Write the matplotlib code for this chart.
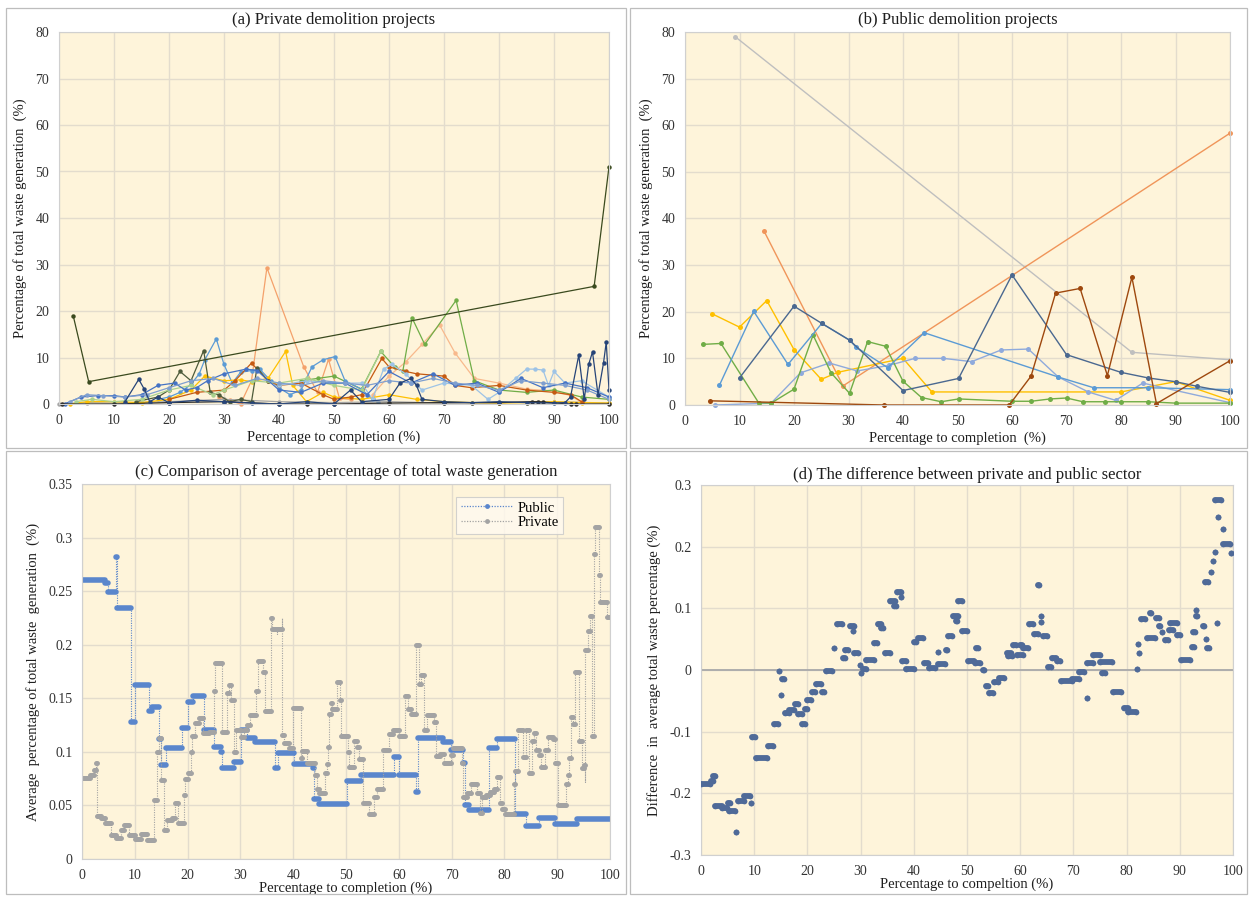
import matplotlib
matplotlib.use('Agg')
import matplotlib.pyplot as plt
from matplotlib.patches import Rectangle
from matplotlib.lines import Line2D
from matplotlib.ticker import FuncFormatter, MultipleLocator

plt.rcParams['font.family'] = ['Liberation Serif', 'DejaVu Serif']

# ---------------- (a) private projects: one list per project ----------------
a_x = [
    [29, 31, 33, 35, 37.8, 44.5, 47, 49, 51, 53],
    [57, 60, 63, 66, 69.2, 72, 75.5, 80, 85, 90, 93, 95],
    [44, 47, 50, 55, 58.5, 61, 62.5, 64.2, 66.5, 72.2, 75.5, 80, 85, 90, 95, 100],
    [18, 20, 22, 24, 25.5, 26.5, 28.6, 30, 31.5, 33, 35, 36.5, 38.5, 40, 42, 44, 46, 48, 50.2, 52, 55, 57, 58],
    [0, 5, 10, 20, 30, 40, 50, 60, 70, 80, 90, 100],
    [2, 5, 10, 15, 20, 24, 26.5, 30, 33, 35, 38, 41.2, 42.5, 45, 48, 50, 55, 60, 65, 70, 75, 80, 85, 90, 95, 100],
    [20, 25, 30, 32, 35, 38, 40, 44, 48, 50, 53, 55, 58.7, 60, 63, 65, 68, 70, 72, 75, 80, 85, 90, 93, 95],
    [14, 18, 20, 22, 24, 26.3, 27.5, 29, 31, 33, 35, 36, 38],
    [40, 45, 50, 55, 57, 59, 60.5, 63, 66, 70, 75, 78, 80, 83, 85, 86.5, 88, 89, 90, 92, 95, 100],
    [3, 6, 10, 15, 20, 24, 28, 30, 35, 40, 45, 50, 55, 58.5],
    [1, 4, 7, 10, 12, 15, 18, 21, 23, 25, 27, 30, 34, 36, 40, 44, 48, 52, 56, 60, 64, 68, 72, 76, 80, 84, 88, 92, 96, 100],
    [2, 5, 8, 12, 16, 20, 24, 28, 32, 36, 40, 44, 48, 52, 56, 60, 64, 68, 72, 76, 80, 84, 88, 92, 96, 100],
    [0.5, 10, 20, 30, 40, 45, 50, 60, 70, 80, 86, 87, 88, 93, 94, 100],
    [12, 14.5, 15.5, 16.5, 18, 20, 25, 30, 35, 40, 45, 50, 53, 55, 60, 62, 64, 65, 66, 70, 75, 80, 85, 90, 92, 93,
     94.5, 95.5, 96.3, 97, 98, 99, 99.5, 100],
    [2.6, 5.4, 97.3, 100],
]
a_y = [
    [1.5, 0.8, 0, 5, 29.3, 8, 2.5, 9.6, 1.2, 1.0],
    [2, 6, 9, 12.8, 17, 11, 5.5, 4.5, 3.2, 2.8, 1.8, 0.4],
    [5, 5.5, 6, 3.2, 11.3, 8, 7, 18.5, 12.8, 22.3, 5, 3, 2.5, 3, 1.5, 1],
    [1, 1.5, 2.5, 4.2, 6.5, 9.5, 14, 8.5, 4.5, 6.8, 7.2, 7.5, 5, 3.5, 2, 3, 8, 9.5, 10.2, 5, 3.2, 1, 0.5],
    [0, 0.3, 0.2, 0.5, 1, 0.5, 0.3, 0.5, 0.2, 0.3, 0.5, 0.2],
    [0, 0.5, 0.5, 0.3, 1, 3, 6, 5, 5.2, 4.8, 5.5, 11.3, 4, 0.5, 2.5, 1.5, 1, 2, 1, 0.5, 0.3, 0.2, 0.3, 0.5, 0.3, 0.2],
    [1, 2.5, 3, 5, 8.8, 5, 4, 4.5, 2, 1, 1.5, 2, 9.8, 8, 7, 6.5, 6.2, 6, 4, 3.5, 4, 3, 2.5, 2, 0.5],
    [0.5, 1.5, 3, 7, 5, 11.5, 2.5, 2, 0.5, 1, 0.5, 7.8, 5],
    [4, 5, 4.5, 4.5, 1, 7.5, 8.5, 6.5, 3, 4.5, 4, 1, 2.5, 5.5, 7.5, 7.5, 7.3, 4, 7, 4.5, 5, 1.5],
    [0.5, 1, 0.5, 1, 3, 4, 2, 3, 5, 4.5, 5.5, 4, 3, 11.3],
    [0, 1.5, 1.8, 1.8, 1.5, 2, 4, 4.5, 3, 3.5, 5, 6.5, 7.5, 7.2, 3, 2.5, 4.5, 4.5, 2, 7, 4.5, 6.5, 4, 4.5, 2.5, 5.5,
     3.5, 4.5, 3.5, 1.5],
    [0.5, 2, 1.8, 1.5, 2, 3.5, 5, 5.5, 4, 5.5, 4.5, 4, 5, 4.5, 4, 5, 4.5, 5.5, 4.5, 4, 3, 5, 4.5, 4, 3, 1],
    [0, 0, 0.3, 0.5, 0, 0, 0, 0.2, 0.3, 0.3, 0.5, 0.5, 0.4, 0, 0, 0],
    [0.5, 5.3, 3.2, 0.5, 1.5, 0.3, 0.8, 0.5, 0.2, 0, 0.5, 0, 3, 0.5, 1, 4.5, 5.5, 4, 1, 0.5, 0.3, 0.5, 0.3, 0.2, 0.3,
     1.5, 10.5, 1, 8.5, 11.2, 2, 8.8, 13.3, 3],
    [18.9, 4.8, 25.3, 51.0],
]
a_colors = ['#f4a16b', '#f8b98c', '#70ad47', '#5b9bd5', '#a5a5a5', '#ffc000', '#c55a11', '#4d5b3a',
            '#9dc3e6', '#a9d18e', '#4472c4', '#7f9fcf', '#2b2b2b', '#264478', '#3a4a1e']

# ---------------- (b) public projects ----------------
b_x = [
    [9.2, 82, 100],
    [14.5, 29, 100],
    [4.9, 10, 15, 20, 25, 28, 40, 45.3, 80, 90, 100],
    [5.5, 15.8, 21.2, 26.5, 31.6, 37.4, 42.2, 47.4, 52.6, 58, 63, 68.5, 74, 79, 84, 100],
    [3.3, 6.6, 13.5, 15.8, 20, 23.5, 26.8, 30.2, 33.5, 36.8, 40, 43.4, 47, 50.2, 60, 63.5, 67, 70, 73, 77, 80, 85,
     90, 100],
    [6.3, 12.6, 18.9, 25.1, 30.2, 31.4, 37.2, 43.9, 68.5, 75, 85, 100],
    [10, 20, 25.1, 30.2, 40, 50.2, 60, 70, 80, 85, 90, 94, 100],
    [4.5, 36.6, 59.5, 63.5, 68, 72.5, 77.5, 82, 86.5, 100],
]
b_y = [
    [79, 11.3, 9.7],
    [37.3, 4.1, 58.3],
    [19.6, 16.7, 22.4, 11.9, 5.5, 7, 10, 2.8, 2.8, 5, 1],
    [0, 0.4, 6.9, 9, 7.3, 8.5, 10, 10, 9.3, 11.8, 12, 6, 2.8, 1, 4.7, 0.5],
    [13, 13.2, 0.5, 0.4, 3.4, 15, 6.9, 2.5, 13.6, 12.6, 5.1, 1.6, 0.7, 1.3, 0.8, 0.8, 1.3, 1.5, 0.7, 0.7, 0.7, 0.7,
     0.4, 0.4],
    [4.2, 20.1, 8.7, 17.5, 13.9, 12.4, 8.0, 15.5, 6, 3.7, 3.7, 3.3],
    [5.8, 21.2, 17.5, 13.9, 3.1, 5.7, 27.9, 10.8, 7, 5.8, 5, 4, 2.7],
    [0.9, 0, 0, 6.2, 24, 25, 6.3, 27.4, 0.3, 9.5],
]
b_colors = ['#bfbfbf', '#f0955a', '#ffc000', '#8faadc', '#70ad47', '#5b9bd5', '#4a6890', '#9e480e']

# ---------------- (c) average share: step levels (start of level, value) ----------------
pub_x = [0, 4.4, 4.9, 6.4, 6.7, 9.3, 10.1, 12.6, 13.3, 14.5, 14.9, 16.0, 18.9, 20.0, 21.1, 23.2, 25.0, 26.3, 26.6,
         28.8, 30.1, 31.3, 32.8, 36.6, 37.2, 40.1, 43.7, 44.0, 44.9, 50.2, 52.8, 59.0, 60.0, 63.2, 63.6, 68.4, 69.9,
         72.2, 72.5, 73.3, 77.0, 78.6, 82.0, 84.1, 86.5, 89.6, 93.7]
pub_y = [0.26, 0.258, 0.249, 0.282, 0.234, 0.128, 0.162, 0.138, 0.142, 0.112, 0.088, 0.104, 0.122, 0.147, 0.152,
         0.12, 0.105, 0.1, 0.085, 0.091, 0.12, 0.113, 0.109, 0.085, 0.099, 0.089, 0.085, 0.056, 0.051, 0.073, 0.078,
         0.095, 0.078, 0.063, 0.113, 0.109, 0.102, 0.09, 0.05, 0.046, 0.104, 0.112, 0.042, 0.031, 0.038, 0.033, 0.037]

priv_x = [0, 1.6, 2.2, 2.6, 2.9, 3.6, 4.4, 5.5, 6.4, 7.4, 7.9, 8.9, 10.1, 11.2, 12.3, 13.7, 14.2, 14.5, 14.9, 15.5,
          16.1, 17.0, 17.6, 18.2, 19.3, 19.5, 20.0, 20.6, 20.8, 21.4, 22.2, 22.9, 24.0, 25.0, 25.2, 26.5, 27.5, 27.9,
          28.3, 28.8, 29.1, 30.1, 30.7, 31.3, 31.8, 32.9, 33.4, 34.3, 34.6, 35.8, 36.0, 36.9, 37.0, 37.8, 37.9, 38.2,
          39.2, 40.0, 41.5, 41.7, 42.6, 44.2, 44.5, 44.9, 46.0, 46.4, 46.6, 46.8, 47.2, 47.4, 48.3, 48.8, 49.0, 50.4,
          50.6, 51.6, 52.0, 52.4, 53.2, 54.3, 55.3, 55.9, 57.0, 58.1, 58.9, 60.0, 61.1, 61.7, 62.3, 63.2, 63.9, 64.2,
          64.8, 65.4, 66.6, 67.0, 67.8, 68.5, 69.8, 70.2, 72.0, 72.2, 72.9, 73.7, 74.8, 75.4, 75.7, 76.5, 77.3, 78.0,
          78.6, 79.1, 79.6, 80.1, 81.8, 82.1, 82.6, 83.5, 84.0, 84.6, 85.3, 85.7, 86.0, 86.6, 86.9, 87.6, 88.3, 89.2,
          89.5, 90.2, 91.7, 92.1, 92.3, 92.7, 93.0, 93.3, 94.1, 94.7, 95.0, 95.2, 95.3, 95.8, 96.3, 96.6, 97.0, 97.2,
          97.9, 98.2, 99.4]
priv_y = [0.076, 0.078, 0.083, 0.09, 0.04, 0.038, 0.034, 0.022, 0.02, 0.027, 0.032, 0.022, 0.019, 0.023, 0.018,
          0.055, 0.1, 0.113, 0.074, 0.027, 0.036, 0.038, 0.052, 0.034, 0.06, 0.075, 0.08, 0.1, 0.115, 0.127, 0.132,
          0.118, 0.119, 0.157, 0.183, 0.119, 0.155, 0.162, 0.148, 0.1, 0.12, 0.114, 0.12, 0.125, 0.134, 0.157, 0.185,
          0.175, 0.138, 0.225, 0.215, 0.21, 0.215, 0.225, 0.116, 0.108, 0.104, 0.141, 0.094, 0.101, 0.09, 0.078,
          0.065, 0.062, 0.08, 0.089, 0.105, 0.135, 0.146, 0.14, 0.165, 0.148, 0.115, 0.1, 0.086, 0.11, 0.105, 0.093,
          0.052, 0.042, 0.058, 0.065, 0.102, 0.117, 0.12, 0.115, 0.152, 0.14, 0.135, 0.2, 0.163, 0.172, 0.12, 0.134,
          0.128, 0.096, 0.098, 0.09, 0.097, 0.104, 0.09, 0.058, 0.062, 0.07, 0.062, 0.043, 0.058, 0.06, 0.063, 0.065,
          0.077, 0.052, 0.047, 0.042, 0.07, 0.082, 0.12, 0.095, 0.12, 0.08, 0.11, 0.118, 0.102, 0.097, 0.086, 0.102,
          0.114, 0.112, 0.09, 0.05, 0.07, 0.078, 0.094, 0.133, 0.126, 0.175, 0.11, 0.085, 0.088, 0.072, 0.195, 0.213,
          0.227, 0.115, 0.285, 0.31, 0.265, 0.24, 0.226]

# ---------------- (d) difference: runs of points (from, to, value) ----------------
d_x0 = [0, 1.8, 2.3, 2.7, 4.0, 5.0, 5.2, 6.6, 7.0, 8.0, 9.4, 9.6, 10.4, 12.6, 13.7, 14.7, 15.0, 15.3, 15.7, 16.5,
        17.6, 18.2, 19.0, 19.6, 20.0, 20.8, 21.6, 22.8, 23.5, 25.0, 25.5, 26.6, 27.0, 28.0, 28.5, 28.8, 29.8, 30.0,
        30.5, 31.0, 32.5, 33.2, 33.8, 34.5, 35.6, 36.3, 36.8, 37.5, 37.8, 38.6, 40.0, 40.7, 42.0, 42.8, 44.5, 44.6,
        46.0, 46.4, 47.3, 48.0, 48.4, 49.0, 50.1, 51.6, 51.5, 53.0, 53.6, 54.2, 55.0, 56.0, 57.6, 57.8, 58.6, 59.4,
        60.0, 60.6, 61.6, 62.5, 63.4, 64.0, 64.0, 64.2, 65.2, 66.0, 67.0, 67.6, 69.8, 71.0, 72.5, 72.5, 73.7, 75.3,
        75.0, 77.5, 79.6, 80.2, 82.0, 82.2, 82.4, 82.8, 83.8, 84.4, 85.6, 86.0, 86.6, 87.2, 88.1, 88.0, 89.4, 90.3,
        92.2, 92.5, 93.0, 93.1, 94.3, 94.7, 94.9, 95.2, 95.8, 96.2, 96.6, 97.0, 96.7, 97.2, 98.2, 98.1, 99.7]
d_x1 = [1.7, 2.2, 2.6, 4.0, 4.8, 5.4, 6.4, 6.6, 8.0, 9.2, 9.4, 10.2, 12.4, 13.5, 14.5, 14.7, 15.0, 15.6, 16.5, 17.5,
        18.2, 19.0, 19.5, 20.0, 20.6, 21.5, 22.6, 23.2, 24.6, 25.0, 26.5, 27.0, 27.6, 28.8, 28.5, 29.6, 29.8, 30.0,
        31.0, 32.5, 33.0, 33.8, 34.2, 35.5, 36.4, 36.6, 37.5, 37.5, 38.5, 40.0, 40.5, 41.8, 42.6, 44.0, 44.5, 45.8,
        46.2, 47.2, 48.3, 48.2, 49.0, 50.0, 51.4, 52.0, 52.5, 53.2, 54.0, 54.8, 55.8, 57.0, 58.2, 58.4, 59.3, 60.5,
        60.4, 61.5, 62.4, 63.4, 63.6, 64.0, 64.0, 65.0, 65.8, 66.8, 67.5, 69.8, 71.0, 71.9, 72.5, 73.7, 75.0, 75.9,
        77.2, 79.0, 80.2, 81.8, 82.0, 82.2, 82.4, 83.4, 85.3, 84.6, 86.0, 86.3, 86.6, 87.8, 89.4, 88.8, 90.0, 91.9,
        92.6, 92.8, 93.1, 93.2, 94.6, 95.3, 94.9, 95.5, 95.8, 96.2, 96.6, 97.0, 97.7, 97.2, 98.2, 99.4, 99.7]
d_y = [-0.185, -0.18, -0.172, -0.22, -0.224, -0.215, -0.228, -0.262, -0.213, -0.205, -0.215, -0.108, -0.142,
       -0.124, -0.088, -0.002, -0.04, -0.015, -0.07, -0.065, -0.055, -0.072, -0.088, -0.063, -0.048, -0.035, -0.023,
       -0.035, -0.002, 0.036, 0.075, 0.02, 0.032, 0.072, 0.063, 0.027, 0.008, -0.005, 0.002, 0.017, 0.043, 0.075,
       0.068, 0.028, 0.112, 0.103, 0.127, 0.118, 0.015, 0.002, 0.045, 0.052, 0.012, 0.003, 0.03, 0.01, 0.033, 0.055,
       0.088, 0.08, 0.112, 0.063, 0.015, 0.035, 0.012, 0.0, -0.026, -0.037, -0.02, -0.013, 0.028, 0.022, 0.04, 0.025,
       0.04, 0.035, 0.075, 0.058, 0.138, 0.088, 0.078, 0.055, 0.005, 0.02, 0.015, -0.018, -0.015, -0.004, -0.046,
       0.012, 0.024, -0.005, 0.013, -0.035, -0.062, -0.068, 0.001, 0.042, 0.027, 0.082, 0.052, 0.092, 0.085, 0.072,
       0.062, 0.049, 0.077, 0.065, 0.057, 0.017, 0.037, 0.062, 0.097, 0.088, 0.072, 0.143, 0.05, 0.035, 0.159,
       0.176, 0.192, 0.077, 0.276, 0.248, 0.229, 0.205, 0.189]

BG = '#fef4da'
GRID = '#e3dccd'
SPINE = '#d0d0d0'
TXT = '#1e1e1e'
PUB = '#5a86cc'
PRIV = '#a3a3a3'
DIFF = '#4f6a98'

W, H = 1251, 897
fig = plt.figure(figsize=(W / 100, H / 100), dpi=100)


def box(l, t, r, b):
    return [l / W, 1 - b / H, (r - l) / W, (b - t) / H]


def style(ax, title, xlabel, ylabel, pad):
    ax.set_facecolor(BG)
    ax.grid(True, color=GRID, lw=1.0)
    ax.set_axisbelow(True)
    for s in ax.spines.values():
        s.set_color(SPINE)
        s.set_linewidth(0.8)
    ax.tick_params(length=0, pad=7, labelsize=10, colors='#333333')
    ax.set_title(title, fontsize=12, pad=pad, color=TXT)
    ax.set_xlabel(xlabel, fontsize=10.5, color=TXT, labelpad=3)
    ax.set_ylabel(ylabel, fontsize=10.5, color=TXT, labelpad=6)
    ax.set_xlim(0, 100)
    ax.xaxis.set_major_locator(MultipleLocator(10))


# quadrant frames
for l, t, r, b in [(6, 8, 626, 448), (630, 8, 1247, 448), (6, 451, 626, 894), (630, 451, 1247, 894)]:
    fig.add_artist(Rectangle((l / W, 1 - b / H), (r - l) / W, (b - t) / H, transform=fig.transFigure,
                             fill=False, ec='#bdbdbd', lw=0.9))

# (a)
ax = fig.add_axes(box(59, 32, 609, 404))
for xs, ys, c in zip(a_x, a_y, a_colors):
    ax.plot(xs, ys, color=c, lw=0.9, marker='o', ms=3.2, mew=0, clip_on=False)
ax.set_ylim(0, 80)
ax.yaxis.set_major_locator(MultipleLocator(10))
style(ax, '(a) Private demolition projects', 'Percentage to completion (%)',
      'Percentage of total waste generation  (%)', 6)

# (b)
ax = fig.add_axes(box(685, 32, 1230, 405))
for xs, ys, c in zip(b_x, b_y, b_colors):
    ax.plot(xs, ys, color=c, lw=1.0, marker='o', ms=3.6, mew=0, clip_on=False)
ax.set_ylim(0, 80)
ax.yaxis.set_major_locator(MultipleLocator(10))
style(ax, '(b) Public demolition projects', 'Percentage to completion  (%)',
      'Percentage of total waste generation  (%)', 6)

# (c)
ax = fig.add_axes(box(82, 484, 610, 859))
for xs, ys, c, lw in [(pub_x, pub_y, PUB, 4.0), (priv_x, priv_y, PRIV, 3.6)]:
    ends = xs[1:] + [100]
    ax.step(xs + [100], ys + [ys[-1]], where='post', color=c, lw=0.8, ls=(0, (1, 1.2)))
    ax.hlines(ys, xs, ends, colors=c, lw=lw, capstyle='round')
ax.set_ylim(0, 0.35)
ax.yaxis.set_major_locator(MultipleLocator(0.05))
ax.yaxis.set_major_formatter(FuncFormatter(lambda v, _: f'{v:g}'))
style(ax, '(c) Comparison of average percentage of total waste generation', 'Percentage to completion (%)',
      'Average  percentage of total waste  generation  (%)', 6)
ax.xaxis.labelpad = 0
handles = [Line2D([], [], color=PUB, ls=(0, (1, 1.2)), lw=0.9, marker='o', ms=3.5, mew=0),
           Line2D([], [], color=PRIV, ls=(0, (1, 1.2)), lw=0.9, marker='o', ms=3.5, mew=0)]
leg = ax.legend(handles, ['Public', 'Private'], loc='upper right', bbox_to_anchor=(0.925, 0.985),
                fontsize=10.5, frameon=True, fancybox=False, handlelength=3.6, borderpad=0.3,
                labelspacing=0.1, handletextpad=0.3)
leg.get_frame().set_facecolor('#fffaf0')
leg.get_frame().set_edgecolor('#c8c8c8')
leg.get_frame().set_linewidth(0.8)

# (d)
ax = fig.add_axes(box(701, 485, 1233, 855))
ax.axhline(0, color='#a9a9a9', lw=1.3, zorder=1)
ax.hlines(d_y, d_x0, d_x1, colors=DIFF, lw=4.2, capstyle='round', zorder=3)
ax.scatter(d_x0 + d_x1, d_y + d_y, s=17, color=DIFF, lw=0, zorder=3)
ax.set_ylim(-0.3, 0.3)
ax.yaxis.set_major_locator(MultipleLocator(0.1))
ax.yaxis.set_major_formatter(FuncFormatter(lambda v, _: f'{v:g}'))
style(ax, '(d) The difference between private and public sector', 'Percentage to compeltion (%)',
      'Difference  in  average total waste percentage (%)', 4)
ax.xaxis.labelpad = 0

fig.savefig('out.png', dpi=100, facecolor='white')
